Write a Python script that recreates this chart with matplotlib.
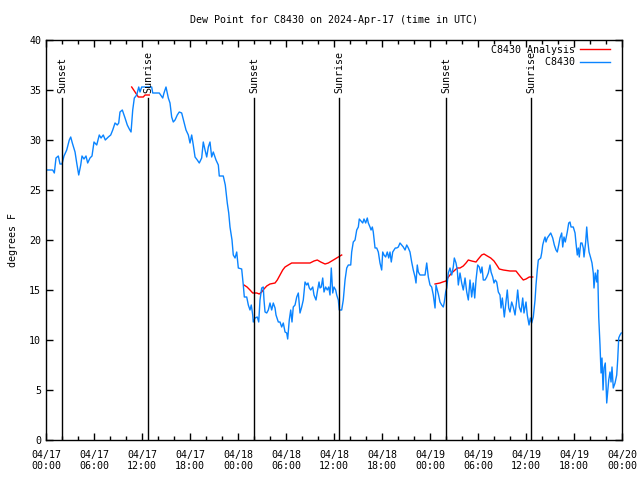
import numpy as np
import datetime as dt
import matplotlib
matplotlib.use('Agg')
from matplotlib import pyplot as plt
import matplotlib.dates as mdates

start = dt.datetime(2024, 4, 17, 0, 0)

# hours since 04/17 00:00 UTC, dew point (F)
obs_hours = [0.00, 0.84, 1.04, 1.25, 1.54, 1.75, 2.00, 2.25, 2.59, 2.91, 3.09, 3.29, 3.63, 3.84, 4.09, 4.34,
             4.50, 4.75, 5.00, 5.21, 5.50, 5.75, 6.00, 6.34, 6.66, 6.88, 7.16, 7.41, 7.79, 8.09, 8.34, 8.63,
             8.91, 9.09, 9.25, 9.54, 9.88, 10.16, 10.41, 10.63, 10.84, 11.04, 11.34, 11.59, 11.75, 11.96, 12.59,
             13.21, 13.34, 13.63, 14.16, 14.59, 14.75, 15.00, 15.29, 15.50, 15.71, 15.91, 16.13, 16.41, 16.66,
             16.96, 17.25, 17.50, 17.79, 18.00, 18.21, 18.41, 18.63, 18.91, 19.16, 19.46, 19.66, 19.88, 20.09,
             20.29, 20.50, 20.71, 20.91, 21.25, 21.54, 21.66, 22.16, 22.41, 22.66, 22.84, 23.00, 23.25, 23.41,
             23.63, 23.84, 24.04, 24.46, 24.66, 24.79, 25.09, 25.29, 25.50, 25.66, 25.84, 25.91, 26.13, 26.41,
             26.59, 26.75, 26.96, 27.16, 27.25, 27.38, 27.59, 27.79, 28.00, 28.21, 28.41, 28.63, 28.75, 29.04,
             29.25, 29.46, 29.66, 29.88, 30.09, 30.21, 30.41, 30.59, 30.75, 30.91, 31.13, 31.34, 31.54, 31.75,
             31.96, 32.16, 32.38, 32.59, 32.75, 32.91, 33.09, 33.34, 33.50, 33.75, 33.91, 34.13, 34.25, 34.41,
             34.59, 34.75, 34.96, 35.16, 35.34, 35.50, 35.66, 35.84, 36.00, 36.21, 36.34, 36.54, 36.66, 36.96,
             37.16, 37.38, 37.59, 37.79, 38.09, 38.21, 38.41, 38.63, 38.84, 39.04, 39.16, 39.38, 39.59, 39.75,
             39.96, 40.16, 40.29, 40.50, 40.63, 40.79, 40.91, 41.13, 41.34, 41.54, 41.75, 41.96, 42.09, 42.25,
             42.46, 42.66, 42.84, 43.00, 43.16, 43.34, 43.50, 43.66, 43.84, 44.04, 44.25, 44.46, 44.66, 44.88,
             45.09, 45.29, 45.50, 45.71, 45.91, 46.13, 46.25, 46.41, 46.54, 46.75, 47.38, 47.59, 47.79, 48.00,
             48.21, 48.41, 48.63, 48.75, 48.91, 49.04, 49.25, 49.46, 49.66, 49.79, 49.96, 50.09, 50.29, 50.50,
             50.71, 50.91, 51.04, 51.25, 51.41, 51.54, 51.75, 51.96, 52.16, 52.38, 52.59, 52.79, 53.00, 53.21,
             53.41, 53.59, 53.75, 53.96, 54.16, 54.34, 54.50, 54.66, 54.88, 55.09, 55.29, 55.50, 55.63, 55.84,
             56.00, 56.16, 56.34, 56.54, 56.75, 56.88, 57.04, 57.16, 57.29, 57.50, 57.66, 57.84, 58.00, 58.21,
             58.41, 58.63, 58.84, 58.96, 59.16, 59.38, 59.59, 59.75, 60.00, 60.16, 60.38, 60.54, 60.71, 60.91,
             61.13, 61.25, 61.41, 61.54, 61.84, 61.96, 62.09, 62.25, 62.38, 62.50, 62.66, 62.91, 63.09, 63.34,
             63.54, 63.75, 63.91, 64.09, 64.25, 64.46, 64.59, 64.75, 64.91, 65.16, 65.34, 65.50, 65.63, 65.91,
             66.13, 66.25, 66.41, 66.54, 66.66, 66.84, 67.00, 67.16, 67.25, 67.46, 67.59, 67.71, 67.88, 68.09,
             68.25, 68.41, 68.50, 68.66, 68.84, 68.96, 69.09, 69.25, 69.38, 69.50, 69.63, 69.75, 69.91, 70.09,
             70.21, 70.34, 70.50, 70.63, 70.75, 70.91, 71.13, 71.34, 71.46, 71.59, 71.75, 71.91]
obs_dewpt = [27.0, 27.0, 26.7, 28.2, 28.4, 27.6, 27.6, 28.4, 29.0, 30.0, 30.3, 29.7, 28.8, 27.7, 26.5, 27.5,
             28.4, 28.1, 28.4, 27.7, 28.2, 28.4, 29.8, 29.5, 30.5, 30.2, 30.5, 30.0, 30.3, 30.5, 31.0, 31.7,
             31.5, 31.7, 32.8, 33.0, 32.2, 31.5, 31.1, 30.8, 33.0, 34.2, 34.5, 35.3, 34.8, 35.3, 35.3,
             35.3, 34.7, 34.7, 34.7, 34.2, 34.7, 35.3, 34.2, 33.7, 32.3, 31.8, 32.0, 32.5, 32.8,
             32.7, 31.8, 31.0, 30.5, 29.7, 30.5, 29.5, 28.3, 28.0, 27.7, 28.2, 29.8, 29.0, 28.3,
             29.3, 29.8, 28.3, 28.8, 28.0, 27.5, 26.4, 26.4, 25.5, 23.7, 22.7, 21.3, 20.0, 18.5,
             18.2, 18.8, 17.2, 17.1, 15.5, 14.3, 14.3, 13.5, 13.0, 13.5, 12.5, 11.8, 12.2, 12.3,
             11.8, 14.0, 15.2, 15.3, 14.0, 12.8, 12.7, 13.0, 13.7, 13.0, 13.7, 13.2, 12.5, 11.8,
             11.8, 11.3, 11.7, 10.8, 10.7, 10.1, 12.0, 13.0, 11.8, 13.3, 13.5, 14.3, 14.7, 12.7,
             13.3, 14.0, 15.8, 15.5, 15.7, 15.2, 15.0, 15.3, 14.5, 14.0, 14.8, 15.8, 15.2, 15.3,
             16.2, 14.8, 15.3, 15.0, 15.3, 14.5, 17.2, 14.7, 15.3, 15.0, 14.5, 14.0, 13.0, 13.0,
             14.0, 16.0, 17.2, 17.5, 17.5, 18.8, 19.8, 20.0, 21.0, 21.3, 22.1, 21.9, 21.7, 22.1,
             21.7, 22.2, 21.7, 21.3, 21.0, 21.3, 20.8, 19.2, 19.2, 18.8, 17.7, 17.0, 18.8, 18.5,
             18.3, 18.8, 18.2, 18.8, 17.8, 18.8, 19.0, 19.2, 19.2, 19.3, 19.7, 19.5, 19.3, 19.0,
             19.5, 19.2, 18.8, 17.8, 17.0, 16.3, 15.7, 17.5, 16.8, 16.5, 16.5, 17.7, 16.3, 15.5,
             15.3, 14.5, 13.2, 15.5, 15.0, 14.6, 13.8, 13.5, 13.3, 13.8, 14.8, 15.2, 16.7, 17.2,
             16.5, 17.3, 18.2, 17.7, 17.0, 15.5, 16.7, 15.7, 15.0, 16.2, 14.8, 14.0, 16.0, 14.3,
             15.7, 14.2, 16.0, 17.5, 17.3, 16.7, 17.3, 16.0, 16.0, 16.3, 16.7, 17.5, 16.8, 16.3,
             15.7, 16.0, 15.8, 14.8, 14.5, 13.2, 14.2, 13.3, 12.3, 13.8, 15.0, 13.2, 12.8, 13.8,
             13.3, 12.5, 14.0, 15.0, 13.3, 12.8, 14.2, 12.7, 13.8, 12.5, 11.5, 12.2, 11.7, 12.3,
             14.0, 15.5, 17.0, 18.0, 18.2, 18.7, 19.5, 20.0, 20.3, 19.8, 20.2, 20.5, 20.7, 20.2,
             19.5, 19.0, 18.8, 19.5, 20.2, 20.7, 19.3, 20.3, 19.8, 20.8, 21.7, 21.8, 21.3, 21.3,
             20.7, 19.7, 18.5, 19.2, 18.3, 19.7, 19.7, 19.2, 18.3, 19.8, 21.3, 20.0, 18.8, 18.2,
             17.7, 16.7, 15.2, 16.7, 15.8, 17.0, 12.3, 9.5, 6.7, 8.2, 5.0, 7.2, 7.7, 3.7,
             4.8, 6.0, 6.8, 5.8, 7.3, 5.2, 5.7, 6.5, 8.0, 10.2, 10.5, 10.7]

# analysis series, three pieces
ana_hours = [
    [10.71, 11.13, 11.54, 12.16, 12.38, 12.91],
    [24.75, 25.13, 25.50, 25.84, 26.34, 26.66, 26.96, 27.25, 27.59, 28.00, 28.63, 28.91, 29.25, 29.59,
     29.88, 30.29, 30.71, 33.00, 33.50, 33.91, 34.34, 34.88, 35.29, 35.71, 36.13, 36.54, 36.96],
    [48.63, 49.25, 49.59, 50.00, 50.29, 50.71, 51.13, 51.41, 51.75, 52.16, 52.50, 52.79, 53.21, 53.75,
     54.04, 54.46, 54.75, 55.16, 55.59, 56.00, 56.34, 56.66, 57.16, 58.00, 58.75, 59.04, 59.34, 59.66,
     60.00, 60.41, 60.84],
]
ana_dewpt = [
    [35.3, 34.8, 34.3, 34.3, 34.5, 34.5],
    [15.5, 15.3, 15.0, 14.7, 14.7, 14.6, 14.8, 15.1, 15.4, 15.6, 15.7, 16.0, 16.5, 17.0,
     17.3, 17.5, 17.7, 17.7, 17.9, 18.0, 17.8, 17.6, 17.7, 17.9, 18.1, 18.3, 18.5],
    [15.6, 15.7, 15.8, 15.9, 16.3, 16.7, 17.0, 17.2, 17.2, 17.4, 17.7, 18.0, 17.9, 17.8,
     18.1, 18.5, 18.6, 18.4, 18.2, 17.9, 17.5, 17.1, 17.0, 16.9, 16.9, 16.6, 16.3, 16.0,
     16.1, 16.3, 16.3],
]

sun_hours = [2.04, 12.79, 26.04, 36.66, 50.04, 60.63]
sun_names = ['Sunset', 'Sunrise', 'Sunset', 'Sunrise', 'Sunset', 'Sunrise']


def to_time(hours):
    return [start + dt.timedelta(hours=h) for h in hours]


plt.rcParams['font.family'] = ['DejaVu Sans Mono']
plt.rcParams['font.size'] = 7.2

fig = plt.figure(figsize=(6.4, 4.8), dpi=100)
ax = fig.add_axes([46 / 640, 40 / 480, 576 / 640, 400 / 480])

for i in range(len(ana_hours)):
    ax.plot(to_time(ana_hours[i]), ana_dewpt[i], color='#ff0000', lw=1,
            label='C8430 Analysis' if i == 0 else None)
ax.plot(to_time(obs_hours), obs_dewpt, color='#0a84ff', lw=1, label='         C8430')

for h, name in zip(sun_hours, sun_names):
    t = start + dt.timedelta(hours=h)
    ax.plot([t, t], [0, 34.2], color='black', lw=1)
    ax.text(t, 34.7, name, rotation=90, ha='center', va='bottom')

ax.set_xlim(start, start + dt.timedelta(hours=72))
ax.set_ylim(0, 40)
ax.set_yticks(np.arange(0, 41, 5))
ax.xaxis.set_major_locator(mdates.HourLocator(byhour=range(0, 24, 6)))
ax.xaxis.set_minor_locator(mdates.HourLocator(byhour=range(0, 24, 2)))
ax.xaxis.set_major_formatter(mdates.DateFormatter('%m/%d\n%H:%M'))
ax.tick_params(which='both', direction='in', top=True, right=True, width=1)
ax.tick_params(which='major', length=5)
ax.tick_params(which='minor', length=3)
ax.tick_params(axis='x', pad=7)
for s in ax.spines.values():
    s.set_linewidth(1)

ax.set_ylabel('degrees F', fontsize=7.2, labelpad=8)
ax.set_title('Dew Point for C8430 on 2024-Apr-17 (time in UTC)', fontsize=7.2, pad=12)

plt.legend(loc='upper right', bbox_to_anchor=(0.9826, 0.9925), frameon=False, markerfirst=False,
           handlelength=3.0, borderpad=0.2, borderaxespad=0, labelspacing=0.25, handletextpad=0.5)

plt.savefig('out.png', dpi=100)
